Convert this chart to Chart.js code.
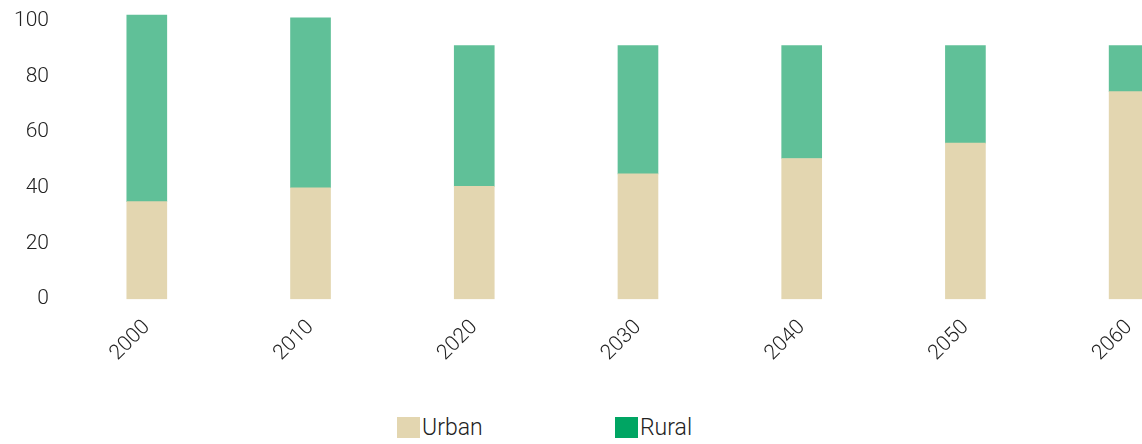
<!DOCTYPE html>
<html>
<head>
<meta charset="utf-8">
<script src="https://cdn.jsdelivr.net/npm/chart.js@4"></script>
<style>
  html, body { margin: 0; padding: 0; background: #fff; overflow: hidden; }
  #wrap { position: relative; width: 1142px; height: 444px; overflow: hidden; }
  #chartBox { position: absolute; left: -9px; top: -22px; width: 1220px; height: 396px; }
  .leyenda { position: absolute; top: 414px; font-family: Roboto, "Liberation Sans", sans-serif; font-weight: 300; font-size: 23px; color: #222; display: flex; align-items: center; }
  .leyenda span.caja { display: inline-block; width: 23px; height: 21px; margin-right: 2px; }
</style>
</head>
<body>
<div id="wrap">
  <div id="chartBox"><canvas id="grafico"></canvas></div>
  <div class="leyenda" style="left:397px"><span class="caja" style="background:#e3d6b0"></span>Urban</div>
  <div class="leyenda" style="left:615px"><span class="caja" style="background:#00a563"></span>Rural</div>
</div>
<script>
const anios = ['2000', '2010', '2020', '2030', '2040', '2050', '2060'];
const urbana = [35, 40, 40.5, 45, 50.5, 56, 74.5];
const rural = [67, 61, 50.5, 46, 40.5, 35, 16.5];
const ticksY = [0, 20, 40, 60, 80, 100];

const fuente = { family: 'Roboto, "Liberation Sans", sans-serif', size: 21, weight: 300 };

new Chart(document.getElementById('grafico'), {
    type: 'bar',
    data: {
        labels: anios,
        datasets: [
            { label: 'Urban', data: urbana, backgroundColor: '#e3d6b0', barThickness: 40 },
            { label: 'Rural', data: rural, backgroundColor: '#60c098', barThickness: 40 }
        ]
    },
    options: {
        responsive: true,
        maintainAspectRatio: false,
        animation: false,
        layout: { padding: { left: 7, top: 0, right: 0, bottom: 0 } },
        plugins: { legend: { display: false }, tooltip: { enabled: false } },
        scales: {
            x: {
                stacked: true,
                grid: { display: false },
                border: { display: false },
                ticks: { color: '#222', font: fuente, maxRotation: 45, minRotation: 45, padding: 8 }
            },
            y: {
                stacked: true,
                min: 0,
                max: 105,
                grid: { display: false, drawTicks: false },
                border: { display: false },
                afterBuildTicks: scale => { scale.ticks = ticksY.map(v => ({ value: v })); },
                ticks: { color: '#222', font: fuente, padding: 16 }
            }
        }
    }
});
</script>
</body>
</html>
